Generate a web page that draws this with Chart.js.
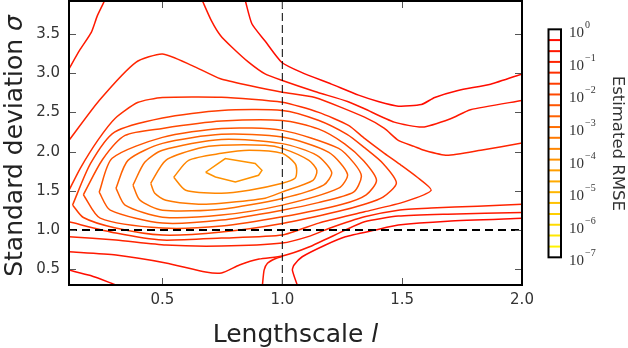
<!DOCTYPE html>
<html>
<head>
<meta charset="utf-8">
<script src="https://cdn.jsdelivr.net/npm/chart.js@4.4.0/dist/chart.umd.min.js"></script>
<style>
  html, body { margin: 0; padding: 0; background: #fff; }
  #wrap { width: 628px; height: 348px; }
</style>
</head>
<body>
<div id="wrap"><canvas id="chart" width="628" height="348"></canvas></div>
<script>
// --- Axis ticks ---
const xTicks = [0.5, 1.0, 1.5, 2.0];
const yTicks = [0.5, 1.0, 1.5, 2.0, 2.5, 3.0, 3.5];

// --- Colorbar: log10(RMSE) of each contour level, and decade labels ---
const cbLevels = [-0.33, -0.67, -1.0, -1.33, -1.67, -2.0, -2.33, -2.67, -3.0, -3.33,
                  -3.67, -4.0, -4.33, -4.67, -5.0, -5.33, -5.67, -6.0, -6.33, -6.67];
const cbDecades = [0, -1, -2, -3, -4, -5, -6, -7];

// --- Traced contour lines, points are [lengthscale, sigma] ---
// level 10^-0.33
const lvl1_top = [[0.846,3.92],[0.873,3.63],[0.928,3.41],[0.997,3.14],[1.08,3.01],[1.205,2.86],[1.318,2.72],[1.40,2.64],[1.484,2.58],[1.58,2.60],[1.636,2.69],[1.733,2.78],[1.869,2.86],[2.0,2.99]];
const lvl1_corner = [[0.11,0.49],[0.20,0.42],[0.306,0.30]];
const lvl1_bottom = [[1.062,0.30],[1.042,0.49],[1.049,0.555],[1.083,0.66],[1.18,0.81],[1.263,0.915],[1.387,1.0],[1.484,1.064],[1.69,1.114],[2.0,1.15]];
// level 10^-0.67
const lvl2_corner = [[0.258,3.92],[0.228,3.73],[0.203,3.52],[0.154,3.29],[0.11,3.055]];
const lvl2_top = [[0.667,3.92],[0.704,3.67],[0.742,3.48],[0.79,3.33],[0.859,3.14],[0.928,2.99],[1.0,2.906],[1.136,2.766],[1.272,2.64],[1.343,2.546],[1.467,2.376],[1.585,2.313],[1.702,2.42],[1.785,2.534],[2.0,2.652]];
const lvl2_bottom = [[0.11,0.724],[0.306,0.682],[0.514,0.581],[0.68,0.466],[0.746,0.454],[0.821,0.555],[0.903,0.631],[1.0,0.67],[1.111,0.784],[1.263,1.0],[1.343,1.105],[1.484,1.178],[1.69,1.203],[2.0,1.225]];
const lvl2_valley = [[0.917,0.30],[0.924,0.49],[0.938,0.577],[0.97,0.635],[1.0,0.665]];
// level 10^-1
const lvl3_top = [[0.11,2.144],[0.236,2.652],[0.389,3.139],[0.5,3.245],[0.624,3.097],[0.742,2.928],[0.862,2.842],[1.0,2.757],[1.136,2.69],[1.343,2.44],[1.426,2.296],[1.484,2.144],[1.55,2.067],[1.592,2.017],[1.687,1.953],[1.828,2.017],[2.0,2.11]];
const lvl3_bottom = [[0.11,0.915],[0.306,0.873],[0.514,0.809],[0.746,0.797],[1.0,0.835],[1.111,0.92],[1.194,1.02],[1.343,1.169],[1.484,1.254],[1.621,1.28],[1.815,1.305],[2.0,1.33]];
// level 10^-1.33 (wedge)
const lvl4 = [[0.11,1.508],[0.157,1.788],[0.23,2.144],[0.302,2.423],[0.396,2.626],[0.5,2.69],[0.746,2.694],[1.0,2.63],[1.152,2.5],[1.276,2.334],[1.343,2.169],[1.426,1.978],[1.496,1.826],[1.563,1.673],[1.621,1.508],[1.509,1.36],[1.343,1.233],[1.152,1.089],[1.0,0.936],[0.746,0.898],[0.5,0.873],[0.306,0.962],[0.11,1.105]];
// closed rings, 10^-1.67 down to 10^-4
const lvl5 = [[0.125,1.32],[0.20,1.85],[0.30,2.25],[0.5,2.43],[0.746,2.525],[1.0,2.525],[1.15,2.40],[1.27,2.22],[1.343,2.05],[1.42,1.85],[1.476,1.6],[1.42,1.42],[1.343,1.33],[1.235,1.24],[1.0,1.085],[0.746,0.975],[0.5,0.936],[0.3,1.03],[0.17,1.16],[0.125,1.32]];
const lvl6 = [[0.17,1.45],[0.25,1.90],[0.344,2.207],[0.5,2.296],[0.746,2.389],[1.0,2.398],[1.15,2.29],[1.26,2.10],[1.34,1.88],[1.393,1.635],[1.35,1.45],[1.25,1.33],[1.0,1.169],[0.746,1.051],[0.5,1.025],[0.24,1.152],[0.17,1.45]];
const lvl7 = [[0.236,1.483],[0.29,1.915],[0.5,2.182],[0.746,2.296],[1.0,2.271],[1.235,2.042],[1.30,1.85],[1.33,1.686],[1.297,1.483],[1.15,1.35],[1.0,1.254],[0.746,1.127],[0.5,1.089],[0.282,1.254],[0.236,1.483]];
const lvl8 = [[0.306,1.534],[0.356,1.889],[0.5,2.105],[0.746,2.22],[1.0,2.186],[1.194,1.991],[1.272,1.712],[1.235,1.534],[1.0,1.318],[0.746,1.191],[0.5,1.165],[0.344,1.318],[0.306,1.534]];
const lvl9 = [[0.377,1.572],[0.426,1.864],[0.5,2.017],[0.746,2.156],[1.0,2.102],[1.144,1.953],[1.206,1.737],[1.172,1.572],[1.0,1.403],[0.746,1.267],[0.5,1.254],[0.406,1.381],[0.377,1.572]];
const lvl10 = [[0.451,1.597],[0.514,1.889],[0.651,2.042],[0.746,2.08],[0.928,2.08],[1.0,2.042],[1.111,1.889],[1.144,1.762],[1.128,1.635],[1.0,1.487],[0.928,1.407],[0.746,1.343],[0.651,1.33],[0.514,1.381],[0.468,1.47],[0.451,1.597]];
const lvl11 = [[0.547,1.673],[0.609,1.889],[0.746,1.978],[0.862,2.017],[1.0,1.978],[1.053,1.85],[1.06,1.762],[1.053,1.66],[1.0,1.597],[0.862,1.508],[0.746,1.47],[0.597,1.508],[0.547,1.673]];
const lvl12 = [[0.68,1.737],[0.721,1.826],[0.762,1.911],[0.887,1.848],[0.915,1.762],[0.901,1.699],[0.804,1.614],[0.721,1.677],[0.68,1.737]];

// true values marked with dashed lines
const trueLengthscale = 1.0;
const trueSigma = 1.0;

// --- Helpers ---
function levelColor(lv) {
  const g = Math.round(255 * (-lv) / 7);
  return `rgb(255,${g},0)`;
}

function toPts(arr) {
  return arr.map(p => ({ x: p[0], y: p[1] }));
}

function contour(arr, lv, tension = 0.2) {
  return {
    data: toPts(arr),
    showLine: true,
    borderColor: levelColor(lv),
    borderWidth: 1.5,
    pointRadius: 0,
    fill: false,
    tension: tension
  };
}

// --- Dataset list (first entries draw on top) ---
const datasets = [
  {
    data: [{ x: trueLengthscale, y: 0.3 }, { x: trueLengthscale, y: 3.92 }],
    showLine: true, borderColor: '#000', borderWidth: 1, borderDash: [8, 4], pointRadius: 0
  },
  {
    data: [{ x: 0.11, y: trueSigma }, { x: 2.0, y: trueSigma }],
    showLine: true, borderColor: '#000', borderWidth: 2, borderDash: [8, 5], pointRadius: 0
  },
  contour(lvl1_top, cbLevels[0]),
  contour(lvl1_corner, cbLevels[0]),
  contour(lvl1_bottom, cbLevels[0]),
  contour(lvl2_corner, cbLevels[1]),
  contour(lvl2_top, cbLevels[1]),
  contour(lvl2_bottom, cbLevels[1]),
  contour(lvl2_valley, cbLevels[1]),
  contour(lvl3_top, cbLevels[2]),
  contour(lvl3_bottom, cbLevels[2]),
  contour(lvl4, cbLevels[3]),
  contour(lvl5, cbLevels[4], 0.25),
  contour(lvl6, cbLevels[5], 0.25),
  contour(lvl7, cbLevels[6], 0.25),
  contour(lvl8, cbLevels[7], 0.25),
  contour(lvl9, cbLevels[8], 0.25),
  contour(lvl10, cbLevels[9], 0.25),
  contour(lvl11, cbLevels[10], 0.25),
  contour(lvl12, cbLevels[11], 0)
];

// --- Frame, inward ticks, axis titles ---
const framePlugin = {
  id: 'frame',
  afterDatasetsDraw(chart) {
    const { ctx, chartArea: a, scales } = chart;
    ctx.save();
    ctx.strokeStyle = '#555';
    ctx.lineWidth = 1;
    const tl = 7;
    xTicks.forEach(v => {
      const x = Math.round(scales.x.getPixelForValue(v)) + 0.5;
      ctx.beginPath();
      ctx.moveTo(x, a.bottom); ctx.lineTo(x, a.bottom - tl);
      ctx.moveTo(x, a.top); ctx.lineTo(x, a.top + tl);
      ctx.stroke();
    });
    yTicks.forEach(v => {
      const y = Math.round(scales.y.getPixelForValue(v)) + 0.5;
      ctx.beginPath();
      ctx.moveTo(a.left, y); ctx.lineTo(a.left + tl, y);
      ctx.moveTo(a.right, y); ctx.lineTo(a.right - tl, y);
      ctx.stroke();
    });
    ctx.strokeStyle = '#000';
    ctx.lineWidth = 2;
    ctx.strokeRect(a.left, a.top, a.right - a.left, a.bottom - a.top);
    ctx.restore();
  },
  afterDraw(chart) {
    const { ctx, chartArea: a } = chart;
    ctx.save();
    ctx.fillStyle = '#222';
    drawMixed(ctx, [['Lengthscale ', ''], ['l', 'italic ']], (a.left + a.right) / 2, 341.5, 0, 25);
    drawMixed(ctx, [['Standard deviation ', ''], ['σ', 'italic ']], 21.5, 146, -Math.PI / 2, 25);
    ctx.restore();
  }
};

function drawMixed(ctx, parts, cx, cy, rot, size) {
  ctx.save();
  ctx.translate(cx, cy);
  ctx.rotate(rot);
  ctx.textBaseline = 'alphabetic';
  ctx.textAlign = 'left';
  let total = 0;
  parts.forEach(([t, st]) => {
    ctx.font = `${st}${size}px "DejaVu Sans"`;
    total += ctx.measureText(t).width;
  });
  let x = -total / 2;
  parts.forEach(([t, st]) => {
    ctx.font = `${st}${size}px "DejaVu Sans"`;
    ctx.fillText(t, x, 0);
    x += ctx.measureText(t).width;
  });
  ctx.restore();
}

// --- Colorbar (drawn against the hidden 'cb' scale) ---
const colorbarPlugin = {
  id: 'colorbar',
  afterDraw(chart) {
    const { ctx, chartArea: a } = chart;
    const cb = chart.scales.cb;
    const x0 = a.right + 26.5, w = 12.5;
    const top = cb.getPixelForValue(cbDecades[0]);
    const bot = cb.getPixelForValue(cbDecades[cbDecades.length - 1]);
    ctx.save();
    cbLevels.forEach(lv => {
      const y = cb.getPixelForValue(lv);
      ctx.strokeStyle = levelColor(lv);
      ctx.lineWidth = 2;
      ctx.beginPath();
      ctx.moveTo(x0, y); ctx.lineTo(x0 + w, y);
      ctx.stroke();
    });
    ctx.strokeStyle = '#000';
    ctx.lineWidth = 2;
    ctx.strokeRect(x0, top, w, bot - top);

    // decade labels 10^n
    ctx.fillStyle = '#333';
    ctx.textAlign = 'left';
    ctx.textBaseline = 'alphabetic';
    cbDecades.forEach(d => {
      const y = cb.getPixelForValue(d);
      const lx = x0 + w + 8;
      ctx.font = '15px "Liberation Serif"';
      ctx.fillText('10', lx, y + 8);
      const bw = ctx.measureText('10').width;
      ctx.font = '10px "Liberation Serif"';
      ctx.fillText(d === 0 ? '0' : '\u2212' + (-d), lx + bw + 1, y - 1);
    });

    // colorbar title
    ctx.fillStyle = '#333';
    ctx.font = '16.5px "DejaVu Sans"';
    ctx.translate(613, (top + bot) / 2);
    ctx.rotate(Math.PI / 2);
    ctx.textAlign = 'center';
    ctx.fillText('Estimated RMSE', 0, 0);
    ctx.restore();
  }
};

// --- Chart ---
new Chart(document.getElementById('chart').getContext('2d'), {
  type: 'scatter',
  data: { datasets },
  options: {
    responsive: false,
    animation: false,
    devicePixelRatio: 1,
    events: [],
    layout: { padding: { left: 0, right: 106, top: 1, bottom: 0 } },
    plugins: { legend: { display: false }, tooltip: { enabled: false } },
    scales: {
      x: {
        type: 'linear',
        min: 0.11,
        max: 2.0,
        afterBuildTicks: s => { s.ticks = xTicks.map(v => ({ value: v })); },
        afterFit: s => { s.height = 63; s.paddingLeft = 0; s.paddingRight = 0; },
        grid: { display: false, drawTicks: false },
        border: { display: false },
        ticks: {
          callback: v => v.toFixed(1),
          font: { family: 'DejaVu Sans', size: 15 },
          color: '#333',
          padding: 6,
          maxRotation: 0,
          autoSkip: false
        }
      },
      y: {
        type: 'linear',
        min: 0.3,
        max: 3.92,
        afterBuildTicks: s => { s.ticks = yTicks.map(v => ({ value: v })); },
        afterFit: s => { s.width = 69; s.paddingTop = 0; s.paddingBottom = 0; },
        grid: { display: false, drawTicks: false },
        border: { display: false },
        ticks: {
          callback: v => v.toFixed(1),
          font: { family: 'DejaVu Sans', size: 15 },
          color: '#333',
          padding: 9,
          autoSkip: false
        }
      },
      cb: {
        type: 'linear',
        axis: 'y',
        position: 'right',
        display: false,
        min: -7.85,
        max: 0.87,
        afterFit: s => { s.width = 0; s.paddingTop = 0; s.paddingBottom = 0; }
      }
    }
  },
  plugins: [framePlugin, colorbarPlugin]
});
</script>
</body>
</html>
